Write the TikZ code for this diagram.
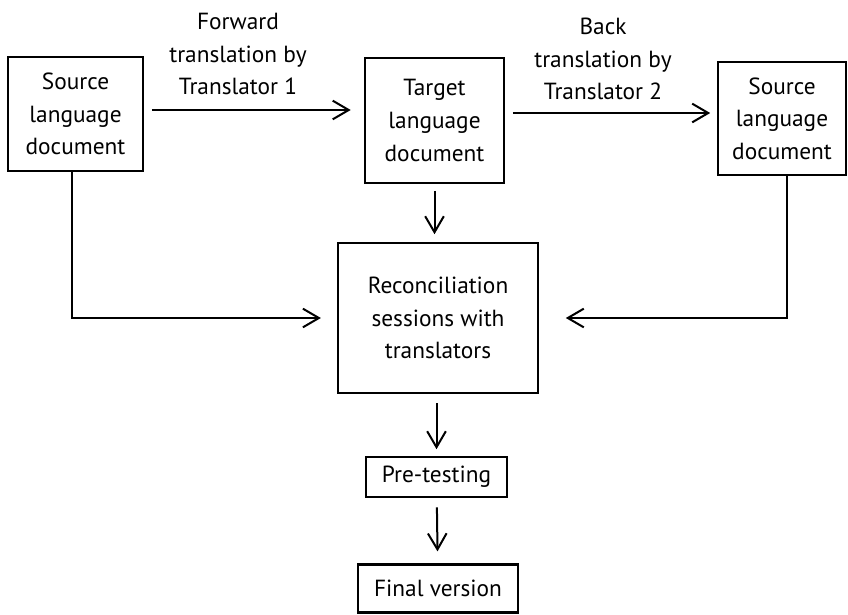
\documentclass[tikz,border=0pt]{standalone}
\usepackage{fontspec}
\setmainfont{PT Sans}
\usetikzlibrary{positioning,arrows.meta}

\begin{document}
\begin{tikzpicture}[x=0.75pt,y=-0.75pt,
box/.style={draw,rectangle,line width=1.7pt,align=center,inner sep=0pt,
    font=\fontsize{17.5pt}{24.5pt}\selectfont},
lbl/.style={align=center,font=\fontsize{17.5pt}{24.5pt}\selectfont},
flow/.style={-{Straight Barb[length=12pt,width=14pt,line width=1.5pt]},line width=1.5pt}]
\useasboundingbox (0,0) rectangle (848,614);

\node (srcdoc) [box,minimum width=101pt,minimum height=86pt] at (75.5,114)
    {Source\\language\\document};
\node (tgtdoc) [box,minimum width=104pt,minimum height=94pt] at (434.5,120.5)
    {Target\\language\\document};
\node (backdoc) [box,minimum width=96pt,minimum height=85pt] at (782,118.5)
    {Source\\language\\document};
\node (recon) [box,minimum width=150pt,minimum height=112pt] at (438,318)
    {Reconciliation\\sessions with\\translators};
\node (pretest) [box,minimum width=106pt,minimum height=30pt] at (436.5,477)
    {Pre-testing};
\node (final) [box,minimum width=120pt,minimum height=36pt] at (438,588.5)
    {Final version};

\node (fwdlbl) [lbl] at (238,54) {Forward\\translation by\\Translator 1};
\node (backlbl) [lbl] at (603,59) {Back\\translation by\\Translator 2};

% top row
\draw[flow,shorten <=6pt,shorten >=10pt] (srcdoc.east |- 0,110) -- (tgtdoc.west |- 0,110);
\draw[flow,shorten <=6pt,shorten >=5pt] (tgtdoc.east |- 0,113) -- (backdoc.west |- 0,113);

% into reconciliation
\draw[flow,shorten <=5pt,shorten >=6pt] (tgtdoc) -- (tgtdoc |- recon.north);
\draw[flow,shorten >=12pt] (srcdoc.south -| 72,0) |- (recon.west);
\draw[flow,shorten >=20pt] (backdoc.south -| 787,0) |- (recon.east);

% bottom chain
\draw[flow,shorten <=7pt,shorten >=5pt] (recon.south -| pretest) -- (pretest.north);
\draw[flow,shorten <=7pt,shorten >=9pt] (pretest) -- (final);
\end{tikzpicture}
\end{document}
